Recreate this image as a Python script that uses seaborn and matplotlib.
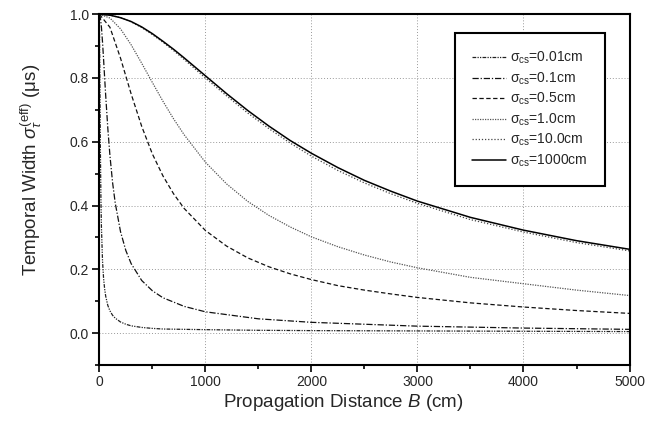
import seaborn as sns
import matplotlib
matplotlib.use("Agg")
import matplotlib.pyplot as plt
import pandas as pd

# distances (cm) used for the fast-decaying curves
b_fast = [0, 5, 10, 15, 20, 30, 40, 50, 60, 80, 100, 125, 150, 200, 250, 300,
          400, 500, 600, 800, 1000, 1500, 2000, 3000, 4000, 5000]
b_01 = [0, 10, 20, 30, 40, 50, 60, 80, 100, 125, 150, 200, 250, 300, 400, 500,
        600, 800, 1000, 1500, 2000, 3000, 4000, 5000]
# distances (cm) used for the slow curves
b_slow = [0, 100, 200, 300, 400, 500, 600, 700, 800, 1000, 1200, 1400, 1600,
          1800, 2000, 2250, 2500, 2750, 3000, 3500, 4000, 4500, 5000]

w_001 = [1.0, 0.814, 0.573, 0.423, 0.330, 0.227, 0.172, 0.139, 0.116, 0.087,
         0.070, 0.056, 0.047, 0.035, 0.028, 0.023, 0.018, 0.015, 0.013, 0.012,
         0.011, 0.009, 0.008, 0.007, 0.006, 0.005]
w_01 = [1.0, 0.989, 0.958, 0.913, 0.859, 0.801, 0.745, 0.642, 0.557, 0.472,
        0.408, 0.318, 0.259, 0.218, 0.165, 0.133, 0.111, 0.084, 0.067, 0.045,
        0.034, 0.022, 0.016, 0.012]
w_05 = [1.0, 0.959, 0.862, 0.750, 0.648, 0.562, 0.493, 0.437, 0.391, 0.322,
        0.273, 0.236, 0.208, 0.186, 0.168, 0.149, 0.135, 0.123, 0.112, 0.095,
        0.082, 0.071, 0.062]
w_1 = [1.0, 0.988, 0.954, 0.904, 0.846, 0.786, 0.727, 0.672, 0.622, 0.536,
       0.468, 0.413, 0.369, 0.333, 0.302, 0.271, 0.245, 0.223, 0.205, 0.175,
       0.155, 0.135, 0.118]
w_10 = [1.0, 0.997, 0.989, 0.976, 0.958, 0.936, 0.912, 0.886, 0.858, 0.800,
        0.744, 0.690, 0.641, 0.596, 0.555, 0.510, 0.471, 0.437, 0.407, 0.356,
        0.317, 0.284, 0.258]
w_1000 = [1.0, 0.997, 0.989, 0.977, 0.960, 0.939, 0.915, 0.890, 0.863, 0.807,
          0.751, 0.698, 0.649, 0.604, 0.564, 0.519, 0.479, 0.445, 0.414, 0.363,
          0.323, 0.290, 0.263]

labels = ["σ$_{\\mathrm{cs}}$=0.01cm", "σ$_{\\mathrm{cs}}$=0.1cm",
          "σ$_{\\mathrm{cs}}$=0.5cm", "σ$_{\\mathrm{cs}}$=1.0cm",
          "σ$_{\\mathrm{cs}}$=10.0cm", "σ$_{\\mathrm{cs}}$=1000cm"]

series = [(b_fast, w_001), (b_01, w_01), (b_slow, w_05),
          (b_slow, w_1), (b_slow, w_10), (b_slow, w_1000)]
styles = [((0, (3, 1, 1, 1, 1, 1)), "#222222", 0.9),
          ((0, (5, 1.5, 1, 1.5)), "#111111", 0.9),
          ((0, (3.5, 2)), "#111111", 0.9),
          ((0, (1, 1)), "#555555", 0.9),
          ((0, (1, 1.5)), "#444444", 0.9),
          ("-", "#000000", 1.1)]

sns.set_style("ticks")
plt.rcParams["font.family"] = ["Liberation Sans", "DejaVu Sans"]
plt.rcParams["mathtext.fontset"] = "custom"
plt.rcParams["mathtext.rm"] = "Liberation Sans"
plt.rcParams["mathtext.it"] = "Liberation Sans:italic"

fig = plt.figure(figsize=(6.45, 4.3), dpi=100)
ax = fig.add_axes([0.154, 0.151, 0.822, 0.816])

for (bx, wy), lab, (ls, col, lw) in zip(series, labels, styles):
    df = pd.DataFrame({"B": bx, "w": wy})
    sns.lineplot(data=df, x="B", y="w", ax=ax, color=col, linestyle=ls,
                 linewidth=lw, label=lab, estimator=None)

ax.set_xlim(0, 5000)
ax.set_ylim(-0.1, 1.0)
ax.set_xticks([0, 1000, 2000, 3000, 4000, 5000])
ax.set_xticks([500, 1500, 2500, 3500, 4500], minor=True)
ax.set_yticks([0.0, 0.2, 0.4, 0.6, 0.8, 1.0])
ax.set_yticks([-0.1, 0.1, 0.3, 0.5, 0.7, 0.9], minor=True)
ax.set_yticklabels(["0.0", "0.2", "0.4", "0.6", "0.8", "1.0"])
ax.tick_params(which="major", length=5, width=1.2, labelsize=10, color="k", pad=2.5)
ax.tick_params(which="minor", length=3, width=1.2, color="k")
ax.grid(True, which="major", linestyle=(0, (1, 2)), color="#999999", linewidth=0.7)
for s in ax.spines.values():
    s.set_visible(True)
    s.set_linewidth(1.5)
    s.set_color("k")

ax.set_xlabel(r"Propagation Distance $B$ (cm)", fontsize=13.5)
ax.set_ylabel(r"Temporal Width $\sigma_\tau^{\mathrm{(eff)}}$ ($\mathrm{\mu}$s)",
              fontsize=13.5)
ax.xaxis.set_label_coords(0.46, -0.078)
ax.yaxis.set_label_coords(-0.105, 0.556)

leg = ax.legend(loc="upper right", bbox_to_anchor=(0.953, 0.946), fontsize=10,
                frameon=True, fancybox=False, handlelength=2.5, borderpad=1.2,
                labelspacing=0.3, handletextpad=0.3, borderaxespad=0)
leg.get_frame().set_edgecolor("k")
leg.get_frame().set_linewidth(1.5)
leg.get_frame().set_alpha(1)

fig.savefig("out.png", dpi=100)
